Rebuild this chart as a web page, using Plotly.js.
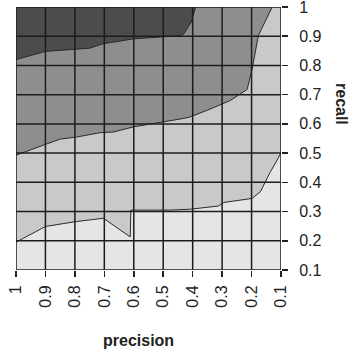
<!DOCTYPE html>
<html>
<head>
<meta charset="utf-8">
<script src="https://cdn.plot.ly/plotly-3.0.1.min.js"></script>
<style>
html,body{margin:0;padding:0;background:#fff;}
#chart{width:349px;height:352px;}
</style>
</head>
<body>
<div id="chart"></div>
<script>
// Tick values / labels
var xTicks = [1, 0.9, 0.8, 0.7, 0.6, 0.5, 0.4, 0.3, 0.2, 0.1];
var xTickText = ['1', '0.9', '0.8', '0.7', '0.6', '0.5', '0.4', '0.3', '0.2', '0.1'];
var yTicks = [0.1, 0.2, 0.3, 0.4, 0.5, 0.6, 0.7, 0.8, 0.9, 1];
var yTickText = ['0.1', '0.2', '0.3', '0.4', '0.5', '0.6', '0.7', '0.8', '0.9', '1'];

// Upper boundary (dark / medium)
var topPrec   = [1.0, 0.9, 0.75, 0.705, 0.6, 0.44, 0.43, 0.405, 0.39];
var topRecall = [0.82, 0.848, 0.859, 0.874, 0.891, 0.902, 0.908, 0.948, 1.0];

// Middle boundary (medium / light)
var midPrec   = [1.0, 0.9, 0.85, 0.794, 0.714, 0.67, 0.6, 0.44, 0.408, 0.34, 0.272, 0.215, 0.198, 0.177, 0.13];
var midRecall = [0.493, 0.529, 0.548, 0.555, 0.570, 0.572, 0.59, 0.617, 0.624, 0.651, 0.68, 0.718, 0.788, 0.902, 1.0];

// Lower boundary (light / lightest)
var lowPrec   = [1.0, 0.9, 0.794, 0.703, 0.612, 0.610, 0.476, 0.408, 0.312, 0.295, 0.198, 0.17, 0.153, 0.136, 0.113, 0.1];
var lowRecall = [0.195, 0.249, 0.266, 0.277, 0.213, 0.305, 0.305, 0.308, 0.319, 0.331, 0.345, 0.368, 0.402, 0.436, 0.476, 0.502];

var colLight = '#c9c9c9', colMid = '#8e8e8e', colDark = '#4c4c4c', colBg = '#e5e5e5';

function areaAbove(px, py, color) {
  var xs = px.slice(), ys = py.slice();
  var lastX = xs[xs.length - 1];
  if (ys[ys.length - 1] < 1) { xs.push(lastX); ys.push(1); }
  xs.push(1); ys.push(1);
  return {x: xs, y: ys, type: 'scatter', mode: 'lines', fill: 'toself',
          fillcolor: color, line: {width: 0}, hoverinfo: 'skip', showlegend: false};
}
function edge(px, py) {
  return {x: px, y: py, type: 'scatter', mode: 'lines',
          line: {color: '#2a2a2a', width: 1}, hoverinfo: 'skip', showlegend: false};
}

var data = [
  areaAbove(lowPrec, lowRecall, colLight),
  areaAbove(midPrec, midRecall, colMid),
  areaAbove(topPrec, topRecall, colDark),
  edge(lowPrec, lowRecall),
  edge(midPrec, midRecall),
  edge(topPrec, topRecall)
];

var shapes = [];
xTicks.forEach(function (v) {
  shapes.push({type: 'line', xref: 'x', yref: 'paper', x0: v, x1: v, y0: 0, y1: 1,
               layer: 'above', line: {color: '#1c1c1c', width: 1.5}});
});
yTicks.forEach(function (v) {
  shapes.push({type: 'line', xref: 'paper', yref: 'y', x0: 0, x1: 1, y0: v, y1: v,
               layer: 'above', line: {color: '#1c1c1c', width: 1.5}});
});

var font = {family: '"Liberation Sans", Arial, Helvetica, sans-serif', size: 16, color: '#222'};

var layout = {
  width: 349, height: 352,
  margin: {l: 16, r: 68, t: 7, b: 82},
  paper_bgcolor: '#ffffff',
  plot_bgcolor: colBg,
  font: font,
  showlegend: false,
  xaxis: {
    range: [1, 0.1], showgrid: false, zeroline: false, showline: false,
    tickmode: 'array', tickvals: xTicks, ticktext: xTickText,
    ticks: 'outside', ticklen: 6, tickwidth: 1.5, tickcolor: '#222',
    tickangle: -90, tickfont: font, ticklabelstandoff: 2, ticklabeloverflow: 'allow'
  },
  yaxis: {
    range: [0.1, 1], side: 'right', showgrid: false, zeroline: false, showline: false,
    tickmode: 'array', tickvals: yTicks, ticktext: yTickText,
    ticks: 'outside', ticklen: 6, tickwidth: 1.5, tickcolor: '#222',
    tickfont: font, ticklabelstandoff: 8, ticklabeloverflow: 'allow'
  },
  shapes: shapes,
  annotations: [
    {text: '<b>precision</b>', xref: 'paper', yref: 'paper', x: (138.5 - 16) / 265, y: 0,
     showarrow: false, font: {family: font.family, size: 16, color: '#222'},
     yanchor: 'middle', xanchor: 'center', yshift: -70},
    {text: '<b>recall</b>', xref: 'paper', yref: 'paper', x: 1, xshift: 61, y: (270 - 104) / 263,
     showarrow: false, textangle: 90, font: {family: font.family, size: 16, color: '#222'},
     xanchor: 'center', yanchor: 'middle'}
  ]
};

Plotly.newPlot('chart', data, layout, {staticPlot: true, displayModeBar: false});
</script>
</body>
</html>
